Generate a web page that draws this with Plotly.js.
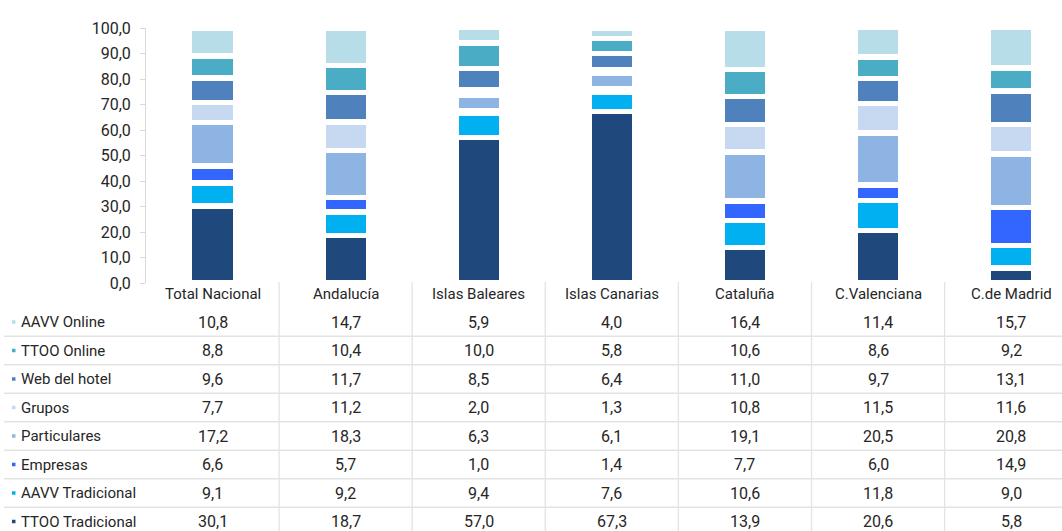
<!DOCTYPE html>
<html>
<head>
<meta charset="utf-8">
<script src="https://cdn.plot.ly/plotly-3.0.1.min.js"></script>
<style>html,body{margin:0;padding:0;background:#fff;}#chart{width:1062px;height:531px;}</style>
</head>
<body>
<div id="chart"></div>
<script>
// ---- DATA ----
const categories = ["Total Nacional", "Andalucía", "Islas Baleares", "Islas Canarias", "Cataluña", "C.Valenciana", "C.de Madrid"];
// series listed from bottom of stack to top
const seriesNames = ["TTOO Tradicional", "AAVV Tradicional", "Empresas", "Particulares", "Grupos", "Web del hotel", "TTOO Online", "AAVV Online"];
const ttooTradicional = [30.1, 18.7, 57.0, 67.3, 13.9, 20.6, 5.8];
const aavvTradicional = [9.1, 9.2, 9.4, 7.6, 10.6, 11.8, 9.0];
const empresas        = [6.6, 5.7, 1.0, 1.4, 7.7, 6.0, 14.9];
const particulares    = [17.2, 18.3, 6.3, 6.1, 19.1, 20.5, 20.8];
const grupos          = [7.7, 11.2, 2.0, 1.3, 10.8, 11.5, 11.6];
const webHotel        = [9.6, 11.7, 8.5, 6.4, 11.0, 9.7, 13.1];
const ttooOnline      = [8.8, 10.4, 10.0, 5.8, 10.6, 8.6, 9.2];
const aavvOnline      = [10.8, 14.7, 5.9, 4.0, 16.4, 11.4, 15.7];
const seriesValues = [ttooTradicional, aavvTradicional, empresas, particulares, grupos, webHotel, ttooOnline, aavvOnline];
const seriesColors = ["#1F497D", "#00B0F0", "#3366FF", "#8EB4E3", "#C6D9F1", "#4F81BD", "#4BACC6", "#B7DEE8"];
const yTicks = [0, 10, 20, 30, 40, 50, 60, 70, 80, 90, 100];

// ---- LAYOUT HELPERS ----
const W = 1062, H = 531;
const plotTop = 28, plotBottom = 283, plotLeft = 146;
const plotH = plotBottom - plotTop;
const py = p => (plotBottom - p) / plotH;          // pixel y -> paper y
const px = p => (p - plotLeft) / (W - plotLeft);    // pixel x -> paper x
const FONT = "Roboto, 'Liberation Sans', Arial, sans-serif";
const TXT = "#262626";
const headerY = 294, rowY0 = 322, rowStep = 28.5;

const fmt = v => v.toFixed(1).replace('.', ',');

const traces = seriesNames.map((name, i) => ({
  type: 'bar',
  name: name,
  x: categories.map((c, k) => k),
  y: seriesValues[i],
  width: 0.343,
  marker: {color: seriesColors[i], line: {color: '#ffffff', width: 5.5}},
  hoverinfo: 'x+y+name'
}));

const annotations = [];
const shapes = [];

// category headers
categories.forEach((c, k) => {
  annotations.push({xref: 'x', yref: 'paper', x: k, y: py(headerY), text: c, showarrow: false,
    xanchor: 'center', yanchor: 'middle', font: {family: FONT, size: 15, color: TXT}});
});

// table rows (top row = last series)
const rowOrder = seriesNames.map((n, i) => i).reverse();
rowOrder.forEach((si, r) => {
  const yy = rowY0 + r * rowStep;
  annotations.push({xref: 'paper', yref: 'paper', x: px(19), y: py(yy), text: seriesNames[si], showarrow: false,
    xanchor: 'left', yanchor: 'middle', font: {family: FONT, size: 15, color: TXT}});
  // legend key
  shapes.push({type: 'rect', xref: 'paper', yref: 'paper', x0: px(12), x1: px(15.5), y0: py(yy + 1.75), y1: py(yy - 1.75),
    fillcolor: seriesColors[si], line: {width: 0}});
  categories.forEach((c, k) => {
    annotations.push({xref: 'x', yref: 'paper', x: k, y: py(yy), text: fmt(seriesValues[si][k]), showarrow: false,
      xanchor: 'center', yanchor: 'middle', font: {family: FONT, size: 16, color: TXT}});
  });
  if (r < rowOrder.length - 1) {
    const ly = yy + rowStep / 2;
    shapes.push({type: 'line', xref: 'paper', yref: 'paper', x0: px(4), x1: 1, y0: py(ly), y1: py(ly),
      line: {color: '#e3e3e3', width: 1.3}});
  }
});

// vertical separators
for (let k = 0; k < categories.length - 1; k++) {
  shapes.push({type: 'line', xref: 'x', yref: 'paper', x0: k + 0.5, x1: k + 0.5, y0: py(plotBottom - 1), y1: py(H + 2),
    line: {color: '#e3e3e3', width: 1.3}});
}

const layout = {
  width: W, height: H,
  margin: {l: plotLeft, r: 0, t: plotTop, b: H - plotBottom, pad: 0},
  paper_bgcolor: '#ffffff', plot_bgcolor: '#ffffff',
  barmode: 'stack',
  bargap: 0,
  showlegend: false,
  separators: ', ',
  font: {family: FONT, size: 16, color: TXT},
  xaxis: {range: [-0.5, -0.5 + (W - plotLeft) / 133.1], showticklabels: false, showgrid: false, zeroline: false,
    showline: false, ticks: '', fixedrange: true},
  yaxis: {range: [0, 100], tickvals: yTicks, tickformat: '.1f', showgrid: false, zeroline: false,
    showline: true, linecolor: '#d9d9d9', linewidth: 1, ticks: 'outside', ticklen: 5, tickcolor: '#d9d9d9',
    ticklabelstandoff: 6, tickfont: {family: FONT, size: 16, color: TXT}, fixedrange: true},
  annotations: annotations,
  shapes: shapes
};

Plotly.newPlot('chart', traces, layout, {displayModeBar: false, staticPlot: true});
</script>
</body>
</html>
